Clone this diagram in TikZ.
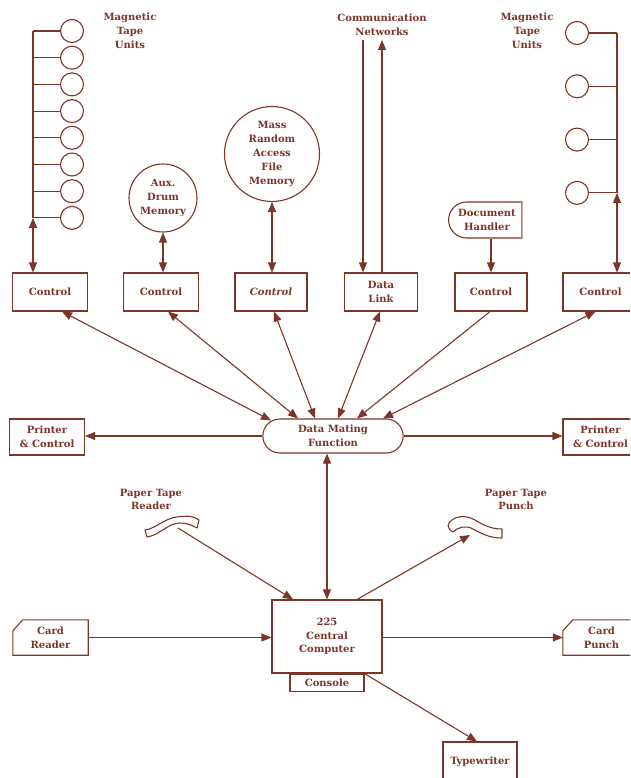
\documentclass[tikz,border=0pt]{standalone}
\usepackage{fontspec}
\setmainfont{DejaVu Serif}
\usepackage{tikz}
\usetikzlibrary{arrows.meta}
\usetikzlibrary{calc}
\usetikzlibrary{positioning}
\usetikzlibrary{shapes.misc}
\definecolor{ink}{RGB}{124,54,40}

\begin{document}
\begin{tikzpicture}[x=1pt,y=-1pt,
	every node/.style={font=\fontsize{10}{13.8}\selectfont\bfseries,text=ink,align=center},
	ln/.style={draw=ink,line width=1.1pt},
	unitbox/.style={ln,rectangle,minimum width=75pt,minimum height=38pt,inner sep=1pt},
	tape/.style={ln,circle,minimum size=23pt,inner sep=0pt},
	store/.style={ln,circle,inner sep=0pt},
	link/.style={ln,-{Triangle[length=10pt,width=8pt]}},
	dlink/.style={ln,{Triangle[length=10pt,width=8pt]}-{Triangle[length=10pt,width=8pt]}}]
	\clip (0,0) rectangle (630,778);
	
	% tape units, left bank
	\coordinate (busL) at (33,0);
	\foreach \i in {1,...,8}
		\node[tape] (tl\i) at (72,{31+(\i-1)*26.7}) {};
	\foreach \i in {1,...,8}
		\draw[ln] (tl\i.west) -- (tl\i.west -| busL);
	\draw[ln] (tl1.west -| busL) -- (tl8.west -| busL);
	\node (tlLbl) at (130,31) {Magnetic\\Tape\\Units};
	
	% tape units, right bank
	\coordinate (busR) at (617,0);
	\foreach \i in {1,...,4}
		\node[tape] (tr\i) at (577,{33+(\i-1)*53.3}) {};
	\foreach \i in {1,...,4}
		\draw[ln] (tr\i.east) -- (tr\i.east -| busR);
	\draw[ln] (tr1.east -| busR) -- (tr4.east -| busR);
	\node (trLbl) at (527,31) {Magnetic\\Tape\\Units};
	
	% controls
	\node[unitbox] (ctlA) at (50,292) {Control};
	\node[unitbox] (ctlB) at (161,292) {Control};
	\node[unitbox,minimum width=72pt] (ctlC) at (271,292) {\itshape Control};
	\node[unitbox,minimum width=73pt] (dlk) at (381,292) {Data\\Link};
	\node[unitbox,minimum width=72pt] (ctlE) at (491,292) {Control};
	\node[unitbox] (ctlF) at (600.5,292) {Control};
	
	\draw[dlink] (tl8.west -| busL) -- (ctlA.north -| busL);
	\draw[dlink] (tr4.east -| busR) -- (ctlF.north -| busR);
	
	\node[store,minimum size=68pt] (drum) at (163,198) {Aux.\\Drum\\Memory};
	\draw[dlink] (drum.south) -- (drum.south |- ctlB.north);
	\node[store,minimum size=95pt] (mass) at (272,154) {Mass\\Random\\Access\\File\\Memory};
	\draw[dlink] (mass.south) -- (mass.south |- ctlC.north);
	
	\node (netLbl) at (382,25) {Communication\\Networks};
	\coordinate (netIn) at (363,40);
	\coordinate (netOut) at (382,40);
	\draw[link] (netIn) -- (netIn |- dlk.north);
	\draw[link] (netOut |- dlk.north) -- (netOut);
	
	\node[ln,rounded rectangle,rounded rectangle right arc=none,minimum width=80pt,minimum height=36pt] (doc) at (487,220) {Document\\Handler};
	\draw[link] (ctlE.north |- doc.south) -- (ctlE.north);
	
	% data mating function
	\node[ln,rounded rectangle,minimum width=147pt,minimum height=34pt] (dmf) at (333,436) {Data Mating\\Function};
	\draw[dlink] ($(ctlA.south)+(12,0)$) -- ($(dmf.north)+(-62,2)$);
	\draw[dlink] ($(ctlB.south)+(7,0)$) -- ($(dmf.north)+(-35,0)$);
	\draw[dlink] ($(ctlC.south)+(3,0)$) -- ($(dmf.north)+(-18,0)$);
	\draw[dlink] ($(dlk.south)+(-1,0)$) -- ($(dmf.north)+(5,0)$);
	\draw[link] ($(ctlE.south)+(-1,0)$) -- ($(dmf.north)+(24,0)$);
	\draw[dlink] ($(ctlF.south)+(-5,0)$) -- ($(dmf.north)+(50,0)$);
	
	\node[unitbox,minimum height=36pt] (prL) at (47,437) {Printer\\\& Control};
	\node[unitbox,minimum height=36pt] (prR) at (600.5,437) {Printer\\\& Control};
	\draw[link] (dmf.west) -- (dmf.west -| prL.east);
	\draw[link] (dmf.east) -- (dmf.east -| prR.west);
	
	% central computer
	\node[unitbox,minimum width=110pt,minimum height=73pt] (comp) at (327,636.5) {225\\Central\\Computer};
	\node[unitbox,minimum width=74pt,minimum height=17pt,anchor=north] (cons) at (comp.south) {Console};
	\draw[dlink] (dmf.south -| comp.north) -- (comp.north);
	
	\node[minimum width=75pt,minimum height=35pt] (crd) at (50.5,637.5) {Card\\Reader};
	\draw[ln] ($(crd.north west)+(10,0)$) -- (crd.north east) -- (crd.south east) -- (crd.south west) -- ($(crd.north west)+(0,11)$) -- cycle;
	\draw[link] (crd.east) -- (crd.east -| comp.west);
	
	\node[minimum width=77pt,minimum height=35pt] (cpn) at (601.5,637.5) {Card\\Punch};
	\draw[ln] ($(cpn.north west)+(10,0)$) -- (cpn.north east) -- (cpn.south east) -- (cpn.south west) -- ($(cpn.north west)+(0,11)$) -- cycle;
	\draw[link] (cpn.west -| comp.east) -- (cpn.west);
	
	\node[unitbox,minimum width=74pt,minimum height=40pt] (tw) at (480,762) {Typewriter};
	\draw[link] (cons.north east) -- ($(tw.north)+(-3,0)$);
	
	% paper tape
	\node (ptrLbl) at (151,499.5) {Paper Tape\\Reader};
	\draw[ln,line join=round] (145,530) -- (147,537) .. controls (160,535) and (168,523) .. (180,523) .. controls (188,523) and (193,526) .. (197,528) -- (199,520) .. controls (192,515) and (184,516) .. (177,517) .. controls (165,518) and (155,529) .. (145,530) -- cycle;
	\coordinate (ptr) at (178,528);
	\draw[link] (ptr) -- ($(comp.north)+(-34,0)$);
	
	\node (ptpLbl) at (516,499.5) {Paper Tape\\Punch};
	\draw[ln,line join=round] (449,523) .. controls (455,515) and (466,515) .. (475,520) .. controls (485,526) and (492,529) .. (502,529) -- (502,538) .. controls (490,538) and (482,534) .. (473,529) .. controls (466,525) and (458,527) .. (453,532) .. controls (449,530) and (447,526) .. (449,523) -- cycle;
	\coordinate (ptp) at (470,535);
	\draw[link] ($(comp.north)+(30,0)$) -- (ptp);
\end{tikzpicture}
\end{document}
